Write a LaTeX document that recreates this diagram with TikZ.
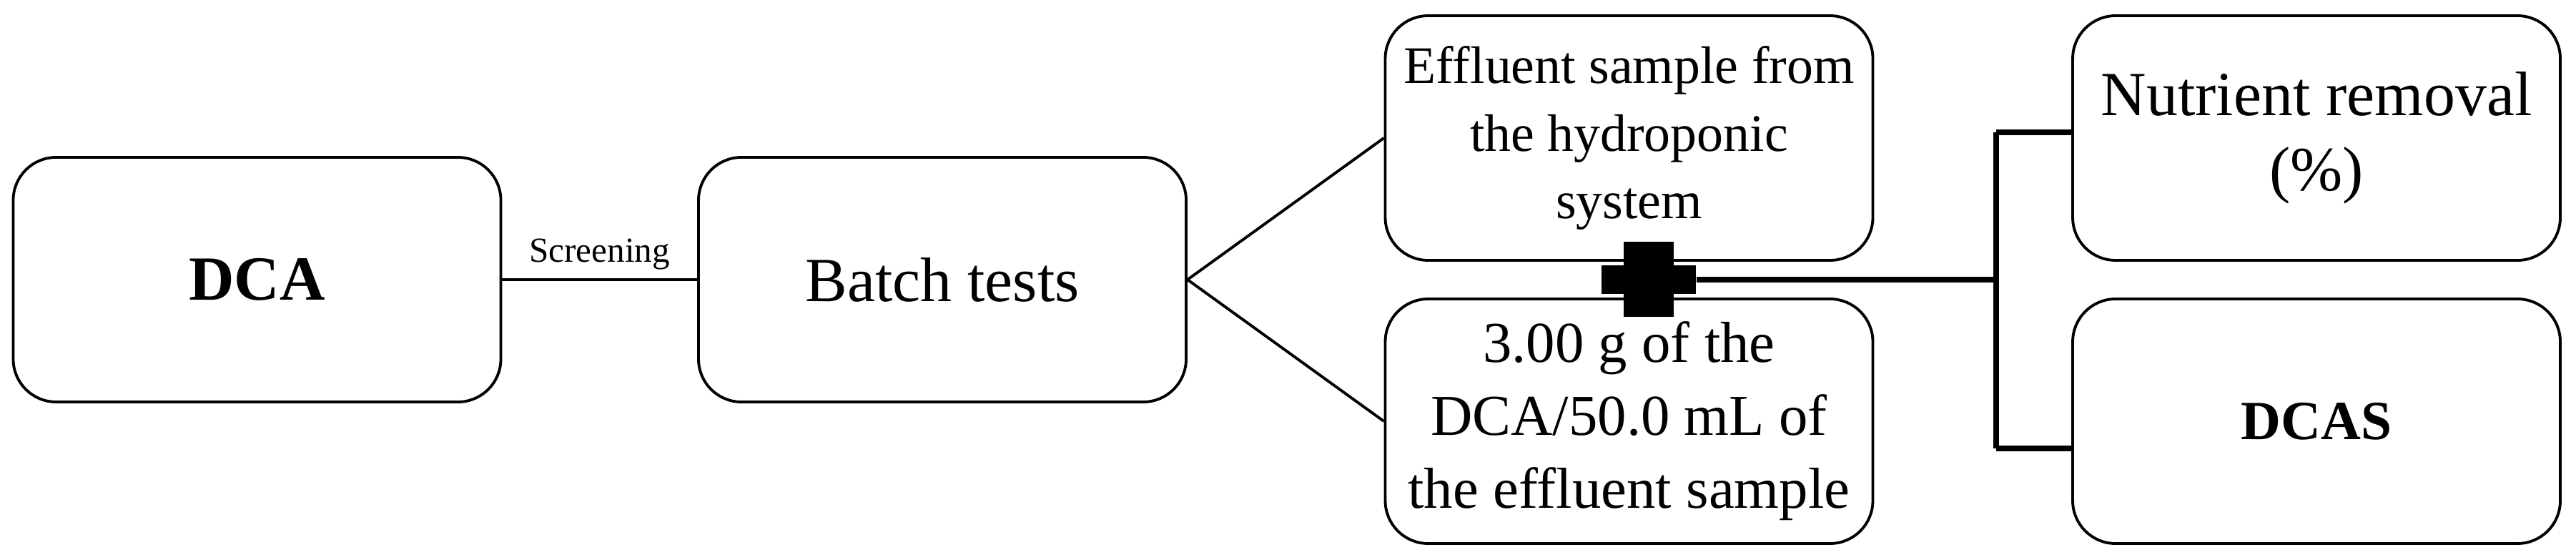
\documentclass[tikz,border=0pt]{standalone}
\usepackage{fontspec}
\setmainfont{Liberation Serif}
\usetikzlibrary{positioning}

\begin{document}
\begin{tikzpicture}[
    box/.style={draw, line width=1.1pt, rounded corners=0.6cm, align=center,
        minimum width=6.82cm, minimum height=3.42cm, font=\fontsize{25}{30}\selectfont},
    link/.style={line width=1.1pt},
    bar/.style={line width=2.3pt}
  ]
    \useasboundingbox (0,0) rectangle (36.03,7.82);

    % Boxes
    \node[box, font=\fontsize{25}{30}\selectfont\bfseries] (dca) at (3.595,3.91) {DCA};
    \node[box] (batch) at (13.18,3.91) {Batch tests};
    \node[box, font=\fontsize{21}{27}\selectfont] (effl) at (22.785,5.89)
        {Effluent sample from\\the hydroponic\\system};
    \node[box, font=\fontsize{23}{29}\selectfont] (dose) at (22.785,1.93)
        {3.00 g of the\\DCA/50.0 mL of\\the effluent sample};
    \node[box] (nutr) at (32.40,5.89) {Nutrient removal\\(\%)};
    \node[box, font=\fontsize{22}{27}\selectfont\bfseries] (dcas) at (32.40,1.93) {DCAS};

    % Plus sign
    \node[inner sep=0, minimum width=1.32cm, minimum height=1.05cm,
        path picture={
            \fill ([xshift=-0.35cm]path picture bounding box.north) rectangle
                  ([xshift=0.35cm]path picture bounding box.south);
            \fill ([yshift=0.2cm]path picture bounding box.west) rectangle
                  ([yshift=-0.2cm]path picture bounding box.east);
        }] (plus) at (23.06,3.91) {};
    \coordinate (jn) at (27.92,3.91);

    % Connections
    \draw[link] (dca.east) -- node[above, font=\fontsize{14}{16}\selectfont] {Screening} (batch.east -| batch.west);
    \draw[link] (batch.east) -- (effl.west);
    \draw[link] (batch.east) -- (dose.west);
    \draw[bar] (plus.east) -- (jn);
    \draw[bar] (jn |- 0,5.97) -- (jn |- 0,1.55);
    \draw[bar] (jn |- 0,5.97) -- (nutr.west |- 0,5.97);
    \draw[bar] (jn |- 0,1.55) -- (dcas.west |- 0,1.55);
\end{tikzpicture}
\end{document}
